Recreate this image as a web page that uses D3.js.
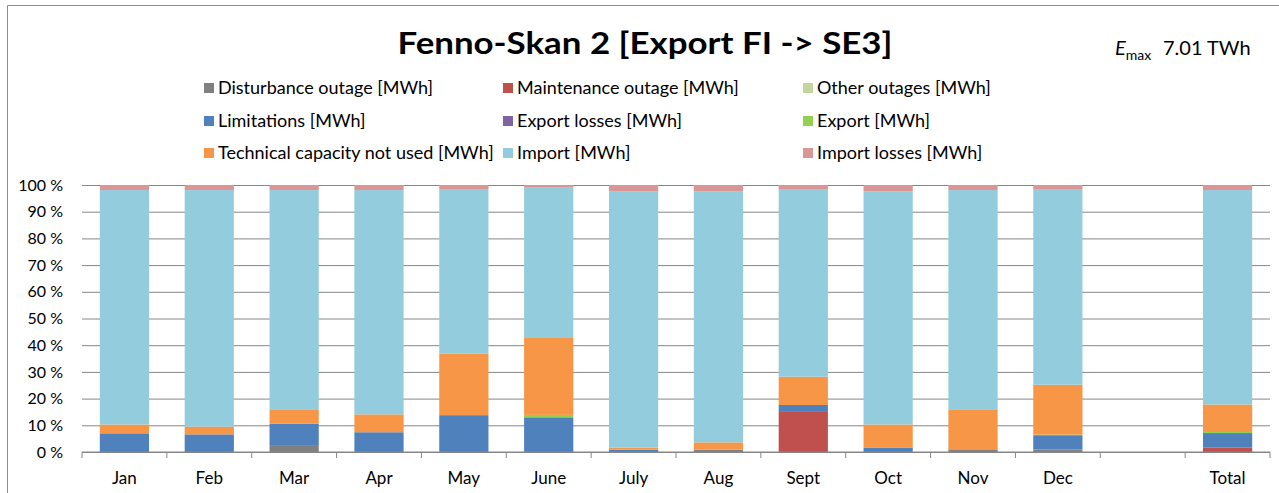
<!DOCTYPE html>
<html>
<head>
<meta charset="utf-8">
<script src="https://cdn.jsdelivr.net/npm/d3@7"></script>
<style>
  body { margin: 0; background: #fff; }
  svg { display: block; font-family: Lato, "Open Sans", sans-serif; }
</style>
</head>
<body>
<svg id="chart" width="1279" height="493"></svg>
<script>
(() => {
    const categories = ["Jan", "Feb", "Mar", "Apr", "May", "June", "July", "Aug", "Sept", "Oct", "Nov", "Dec", "", "Total"];

    const seriesNames = [
        "Disturbance outage [MWh]", "Maintenance outage [MWh]", "Other outages [MWh]",
        "Limitations [MWh]", "Export losses [MWh]", "Export [MWh]",
        "Technical capacity not used [MWh]", "Import [MWh]", "Import losses [MWh]"
    ];
    const seriesColors = ["#808080", "#c0504d", "#c3d69b", "#4f81bd", "#8064a2", "#92d050", "#f79646", "#93cddd", "#d99694"];

    // shares in % per category (blank category = no bar)
    const disturbance = [0, 0, 2.6, 0, 0, 0, 0, 0.9, 0, 0, 1.0, 0.9, 0, 0];
    const maintenance = [0, 0, 0, 0, 0, 0, 0, 0, 15.0, 0, 0, 0, 0, 1.6];
    const otherOutages = [0, 0, 0, 0, 0, 0, 0, 0, 0, 0, 0, 0, 0, 0];
    const limitations = [7.0, 6.6, 8.0, 7.4, 13.8, 13.0, 0.9, 0, 2.6, 1.7, 0, 5.4, 0, 5.5];
    const exportLosses = [0, 0, 0, 0, 0, 0, 0, 0, 0, 0, 0, 0, 0, 0];
    const exportVals = [0, 0, 0, 0, 0, 0.9, 0, 0, 0, 0, 0, 0.2, 0, 0.4];
    const techNotUsed = [3.3, 2.9, 5.4, 6.7, 23.0, 28.8, 0.7, 2.7, 10.6, 8.6, 15.0, 18.7, 0, 10.3];
    const importVals = [87.8, 88.6, 82.1, 84.0, 61.7, 56.3, 96.1, 94.1, 70.3, 87.4, 82.1, 73.3, 0, 80.3];
    const importLosses = [1.9, 1.9, 1.9, 1.9, 1.5, 1.0, 2.3, 2.3, 1.5, 2.3, 1.9, 1.5, 0, 1.9];

    const yTicks = [0, 10, 20, 30, 40, 50, 60, 70, 80, 90, 100];
    const title = "Fenno-Skan 2 [Export FI -> SE3]";
    const emaxValue = "7.01 TWh";

    const seriesValues = [disturbance, maintenance, otherOutages, limitations, exportLosses, exportVals, techNotUsed, importVals, importLosses];
    const keys = seriesNames;
    const rows = categories.map((c, i) => {
        const r = { cat: c };
        keys.forEach((k, j) => r[k] = seriesValues[j][i]);
        return r;
    });

    const svg = d3.select("#chart");
    const plot = { left: 82, right: 1270, top: 185, bottom: 452 };

    // outer frame
    svg.append("path")
        .attr("d", "M7.5,493 V5.5 H1279")
        .attr("fill", "none")
        .attr("stroke", "#8c8c8c")
        .attr("stroke-width", 1);

    // title
    svg.append("text")
        .attr("x", 645)
        .attr("y", 54)
        .attr("text-anchor", "middle")
        .attr("font-size", "30px")
        .attr("font-weight", "bold")
        .attr("fill", "#000")
        .attr("textLength", 495)
        .attr("lengthAdjust", "spacingAndGlyphs")
        .text(title);

    // E_max label
    const em = svg.append("text").attr("x", 1115).attr("y", 55).attr("font-size", "20px").attr("fill", "#000");
    em.append("tspan").attr("font-style", "italic").text("E");
    em.append("tspan").attr("dy", 5).attr("font-size", "14px").text("max");
    svg.append("text").attr("x", 1163).attr("y", 55).attr("font-size", "20px").attr("fill", "#000").text(emaxValue);

    // legend
    const legendCols = [204, 503, 803];
    const legendRows = [88, 121, 153];
    const legend = svg.append("g");
    keys.forEach((k, i) => {
        const lx = legendCols[i % 3], ly = legendRows[Math.floor(i / 3)];
        legend.append("rect")
            .attr("x", lx).attr("y", ly - 5)
            .attr("width", 10).attr("height", 10)
            .attr("fill", seriesColors[i]);
        legend.append("text")
            .attr("x", lx + 14).attr("y", ly + 6)
            .attr("font-size", "18px")
            .attr("fill", "#000")
            .text(k);
    });

    const x = d3.scaleBand().domain(categories).range([plot.left, plot.right]).paddingInner(0.42).paddingOuter(0.21);
    const y = d3.scaleLinear().domain([0, 100]).range([plot.bottom, plot.top]);

    // gridlines + y labels
    svg.append("g")
        .attr("transform", `translate(${plot.left},0)`)
        .call(d3.axisLeft(y).tickValues(yTicks).tickSize(-(plot.right - plot.left)).tickPadding(19).tickFormat(d => d + " %"))
        .call(g => g.select(".domain").remove())
        .call(g => g.selectAll(".tick line").attr("stroke", "#868686"))
        .call(g => g.selectAll(".tick text").attr("font-size", "16px").attr("fill", "#000").attr("font-family", "Lato, sans-serif"));

    // stacked bars
    const stack = d3.stack().keys(keys)(rows);
    svg.append("g")
        .selectAll("g")
        .data(stack)
        .join("g")
        .attr("fill", (d, i) => seriesColors[i])
        .selectAll("rect")
        .data(d => d)
        .join("rect")
        .attr("x", d => x(d.data.cat))
        .attr("width", x.bandwidth())
        .attr("y", d => y(d[1]))
        .attr("height", d => Math.max(0, y(d[0]) - y(d[1])));

    // x axis with ticks between categories
    const xa = svg.append("g").attr("transform", `translate(0,${plot.bottom})`);
    xa.append("line")
        .attr("x1", plot.left).attr("x2", plot.right)
        .attr("stroke", "#868686");
    const edges = categories.map(c => x(c) - x.step() * x.paddingInner() / 2).concat([plot.right]);
    edges[0] = plot.left;
    xa.selectAll("line.tk")
        .data(edges)
        .join("line")
        .attr("class", "tk")
        .attr("x1", d => d).attr("x2", d => d)
        .attr("y1", 0).attr("y2", 6)
        .attr("stroke", "#868686");
    xa.selectAll("text")
        .data(categories)
        .join("text")
        .attr("x", d => x(d) + x.bandwidth() / 2)
        .attr("y", 32)
        .attr("text-anchor", "middle")
        .attr("font-size", "17px")
        .attr("fill", "#000")
        .text(d => d);
})();
</script>
</body>
</html>
